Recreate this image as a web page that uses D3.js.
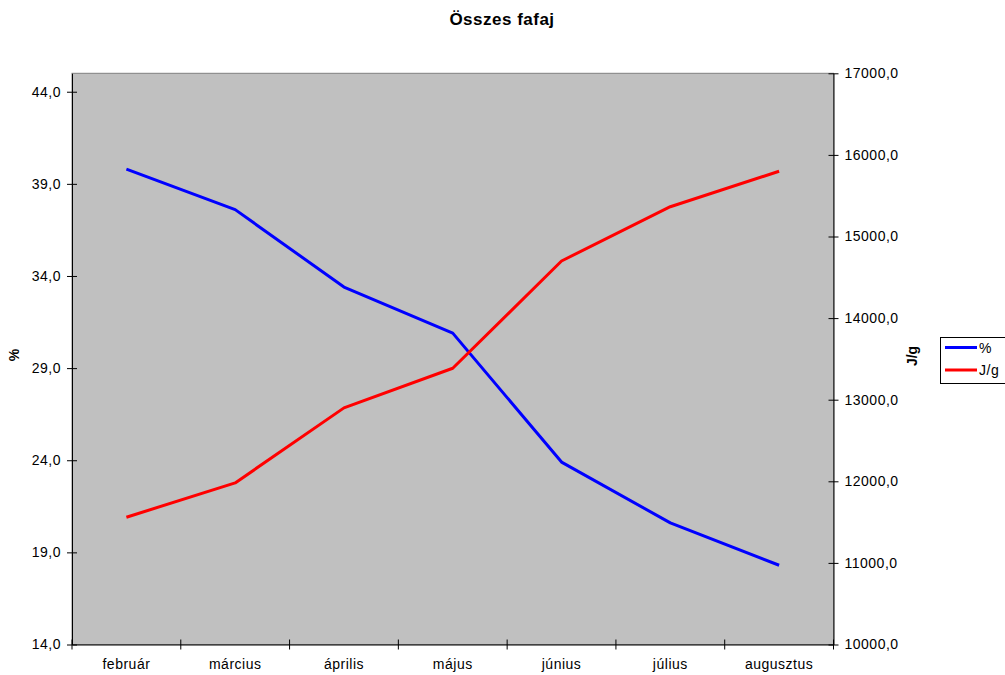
<!DOCTYPE html>
<html>
<head>
<meta charset="utf-8">
<script src="https://cdn.jsdelivr.net/npm/d3@7"></script>
<style>
  html, body { margin: 0; padding: 0; background: #ffffff; }
  svg { display: block; font-family: "Liberation Sans", Arial, sans-serif; }
  .tick-label { font-size: 14px; letter-spacing: 0.5px; fill: #000; }
</style>
</head>
<body>
<svg id="chart" width="1005" height="675"></svg>
<script>
// Months along the category axis
const months = ["február", "március", "április", "május", "június", "július", "augusztus"];
// Share of all tree species, percent (left axis)
const percentValues = [39.8, 37.6, 33.4, 30.9, 23.9, 20.6, 18.3];
// Energy content, J/g (right axis)
const energyValues = [11560, 11980, 12900, 13385, 14700, 15365, 15800];
// Axis tick values
const percentTicks = [14, 19, 24, 29, 34, 39, 44];
const energyTicks = [10000, 11000, 12000, 13000, 14000, 15000, 16000, 17000];
const seriesNames = ["%", "J/g"];
const seriesColors = ["#0000ff", "#ff0000"];

const svg = d3.select("#chart");
const plot = { left: 72, right: 833.5, top: 73.3, bottom: 644.5 };
const fmt = v => v.toFixed(1).replace(".", ",");

const x = d3.scaleBand().domain(months).range([plot.left, plot.right]).padding(0);
const yL = d3.scaleLinear().domain([14, 45]).range([plot.bottom, plot.top]);
const yR = d3.scaleLinear().domain([10000, 17000]).range([plot.bottom, plot.top]);

// Plot area
svg.append("rect")
  .attr("x", plot.left).attr("y", plot.top)
  .attr("width", plot.right - plot.left).attr("height", plot.bottom - plot.top)
  .attr("fill", "#c0c0c0").attr("stroke", "#808080").attr("stroke-width", 1);

// Title
svg.append("text")
  .attr("x", 502).attr("y", 25)
  .attr("text-anchor", "middle")
  .attr("font-size", 17).attr("font-weight", "bold").attr("letter-spacing", "0.5px")
  .text("Összes fafaj");

// Left axis
const gL = svg.append("g").attr("transform", `translate(${plot.left},0)`)
  .call(d3.axisLeft(yL).tickValues(percentTicks).tickFormat(fmt).tickSize(5).tickSizeOuter(0).tickPadding(6));
gL.selectAll(".tick line").attr("x2", -5).attr("x1", 5).attr("stroke", "#000");
gL.select(".domain").attr("stroke", "#000");
gL.selectAll(".tick text").attr("class", "tick-label").attr("x", -11).attr("font-size", null).attr("font-family", null);

// Right axis
const gR = svg.append("g").attr("transform", `translate(${plot.right},0)`)
  .call(d3.axisRight(yR).tickValues(energyTicks).tickFormat(fmt).tickSize(5).tickSizeOuter(0).tickPadding(6));
gR.selectAll(".tick line").attr("x1", -5).attr("x2", 5).attr("stroke", "#000");
gR.select(".domain").attr("stroke", "#000");
gR.selectAll(".tick text").attr("class", "tick-label").attr("x", 11).attr("font-size", null).attr("font-family", null);

// Bottom axis: labels centred in each month band, ticks on band edges
const gB = svg.append("g").attr("transform", `translate(0,${plot.bottom})`)
  .call(d3.axisBottom(x).tickSize(0).tickSizeOuter(0).tickPadding(15));
gB.select(".domain").attr("stroke", "#000");
gB.selectAll(".tick text").attr("class", "tick-label").attr("font-size", null).attr("font-family", null);
const edges = months.map(m => x(m)).concat([plot.right]);
gB.selectAll(".edge").data(edges).join("line")
  .attr("class", "edge")
  .attr("x1", d => d).attr("x2", d => d)
  .attr("y1", -5).attr("y2", 5)
  .attr("stroke", "#000");

// Axis titles
svg.append("text")
  .attr("transform", `translate(19,355) rotate(-90)`)
  .attr("text-anchor", "middle")
  .attr("font-size", 14).attr("font-weight", "bold")
  .text("%");
svg.append("text")
  .attr("transform", `translate(917,356) rotate(-90)`)
  .attr("text-anchor", "middle")
  .attr("font-size", 14).attr("font-weight", "bold")
  .text("J/g");

// Series lines
const cx = m => x(m) + x.bandwidth() / 2;
const linePct = d3.line().x((d, i) => cx(months[i])).y(d => yL(d));
const lineEnergy = d3.line().x((d, i) => cx(months[i])).y(d => yR(d));

svg.append("path").datum(percentValues)
  .attr("d", linePct).attr("fill", "none")
  .attr("stroke", seriesColors[0]).attr("stroke-width", 3).attr("stroke-linejoin", "round");
svg.append("path").datum(energyValues)
  .attr("d", lineEnergy).attr("fill", "none")
  .attr("stroke", seriesColors[1]).attr("stroke-width", 3).attr("stroke-linejoin", "round");

// Legend
const legend = svg.append("g");
legend.append("rect")
  .attr("x", 940.5).attr("y", 337.5).attr("width", 80).attr("height", 46)
  .attr("fill", "#fff").attr("stroke", "#000");
seriesNames.forEach((name, i) => {
  const ly = 347.5 + i * 22.5;
  legend.append("line")
    .attr("x1", 945).attr("x2", 977).attr("y1", ly).attr("y2", ly)
    .attr("stroke", seriesColors[i]).attr("stroke-width", 3);
  legend.append("text")
    .attr("x", 979).attr("y", ly + 5)
    .attr("class", "tick-label")
    .text(name);
});
</script>
</body>
</html>
